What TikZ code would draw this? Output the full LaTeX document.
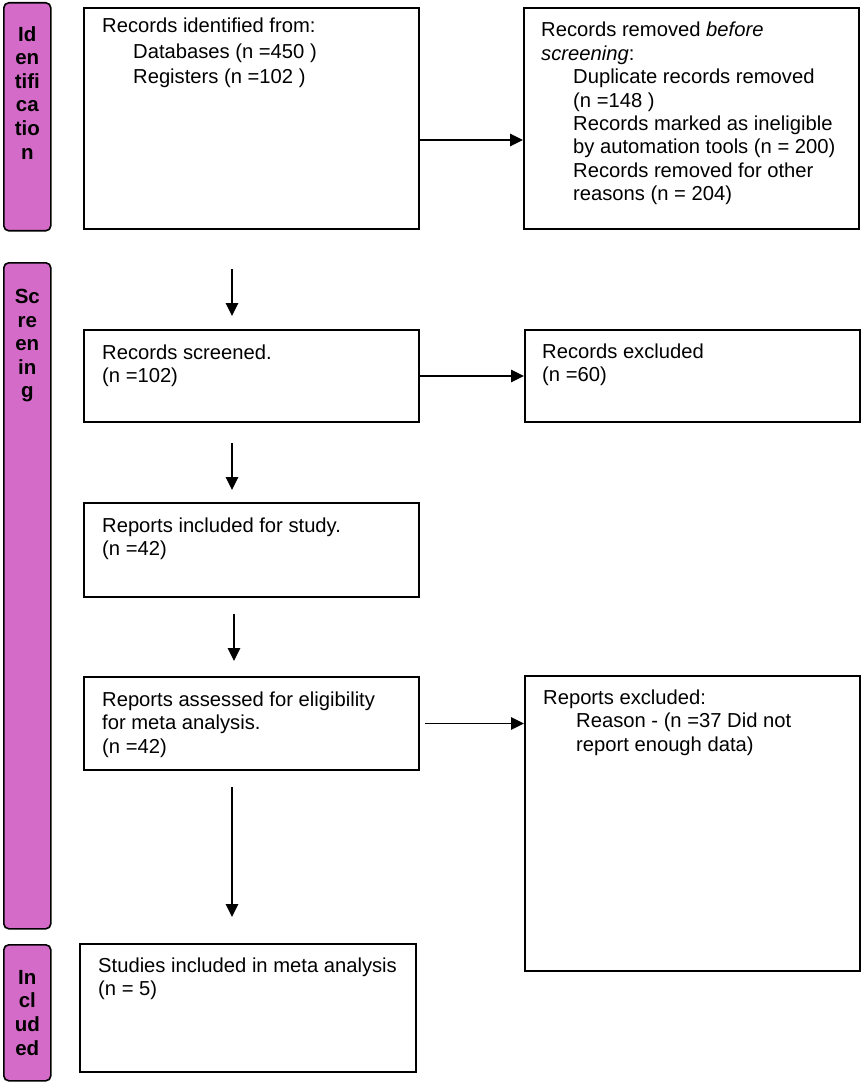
\documentclass[tikz,border=0pt]{standalone}
\usepackage{fontspec}
\setmainfont{Liberation Sans}
\usetikzlibrary{arrows.meta,calc}
\definecolor{stage}{HTML}{D46BC8}
\begin{document}
\begin{tikzpicture}[x=1pt,y=1pt,
  box/.style={draw=black,line width=2pt,anchor=north west,inner sep=0pt,minimum width=335pt},
  txt/.style={anchor=north west,inner sep=0pt,align=left,font=\fontsize{20.2}{23.4}\selectfont},
  bar/.style={draw=black,line width=1.6pt,fill=stage,rounded corners=5pt,anchor=north west,minimum width=47pt,inner sep=0pt},
  bartxt/.style={anchor=north,inner sep=0pt,align=center,font=\bfseries\fontsize{20.5}{23.6}\selectfont},
  arr/.style={line width=1.3pt,-{Triangle[length=13pt,width=12.5pt]}}]
\useasboundingbox (0,0) rectangle (863,-1083);
% stage bars
\node[bar,minimum height=228pt] (s1) at (3,-2) {};
\node[bar,minimum height=666pt] (s2) at (3,-262) {};
\node[bar,minimum height=136pt] (s3) at (3,-944) {};
\node[bartxt] (l1) at ($(s1.north)+(0,-24)$) {Id\\en\\tifi\\ca\\tio\\n};
\node[bartxt] (l2) at ($(s2.north)+(0,-27)$) {Sc\\re\\en\\in\\g};
\node[bartxt] (l3) at ($(s3.north)+(0,-26)$) {In\\cl\\ud\\ed};
% boxes
\node[box,minimum height=221pt] (b1) at (83,-7) {};
\node[box,minimum height=221pt] (b2) at (523,-7) {};
\node[box,minimum height=92pt] (b3) at (83,-329) {};
\node[box,minimum height=92pt] (b4) at (524,-329) {};
\node[box,minimum height=94pt] (b5) at (83,-502) {};
\node[box,minimum height=93pt] (b6) at (83,-676) {};
\node[box,minimum height=295pt] (b7) at (524,-675) {};
\node[box,minimum width=336pt,minimum height=128pt] (b8) at (79,-943) {};
% texts
\node[txt,font=\fontsize{20.2}{25.5}\selectfont] (t1) at ($(b1.north west)+(19,-11)$)
  {Records identified from:\\\hspace*{31pt}Databases (n =450 )\\\hspace*{31pt}Registers (n =102 )};
\node[txt] (t2) at ($(b2.north west)+(18,-15)$)
  {Records removed \textit{before}\\\textit{screening}:\\\hspace*{32pt}Duplicate records removed\\\hspace*{32pt}(n =148 )\\\hspace*{32pt}Records marked as ineligible\\\hspace*{32pt}by automation tools (n = 200)\\\hspace*{32pt}Records removed for other\\\hspace*{32pt}reasons (n = 204)};
\node[txt] (t3) at ($(b3.north west)+(19,-15.5)$) {Records screened.\\(n =102)};
\node[txt] (t4) at ($(b4.north west)+(18,-14.5)$) {Records excluded\\(n =60)};
\node[txt] (t5) at ($(b5.north west)+(19,-15.5)$) {Reports included for study.\\(n =42)};
\node[txt] (t6) at ($(b6.north west)+(19,-15.5)$) {Reports assessed for eligibility\\for meta analysis.\\(n =42)};
\node[txt] (t7) at ($(b7.north west)+(19,-14.5)$) {Reports excluded:\\\hspace*{33pt}Reason - (n =37 Did not\\\hspace*{33pt}report enough data)};
\node[txt] (t8) at ($(b8.north west)+(19,-14.5)$) {Studies included in meta analysis\\(n = 5)};
% connectors
\draw[arr] ([yshift=-21.5pt]b1.east) -- ([yshift=-21.5pt]b2.west);
\draw[arr] (b3.east) -- (b4.west);
\draw[arr] ([xshift=5pt]b6.east) -- (b6.east -| b7.west);
\draw[arr] ($(b1.south west)+(149,-39)$) -- ($(b3.north west)+(149,13)$);
\draw[arr] ($(b3.south west)+(149,-20)$) -- ($(b5.north west)+(149,12)$);
\draw[arr] ($(b5.south west)+(151,-16)$) -- ($(b6.north west)+(151,15)$);
\draw[arr] ($(b6.south west)+(149,-16)$) -- ($(b8.north west)+(153,26)$);
\end{tikzpicture}
\end{document}
